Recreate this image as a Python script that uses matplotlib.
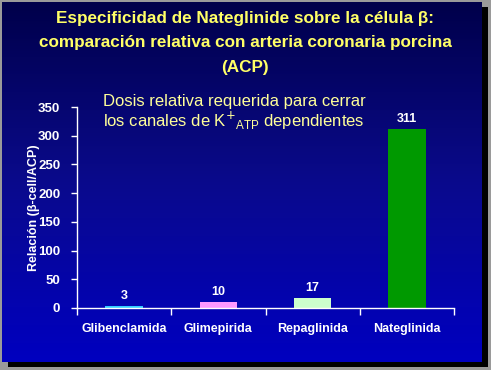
import numpy as np
import matplotlib
matplotlib.use('Agg')
import matplotlib.pyplot as plt
from matplotlib.patches import Rectangle
from matplotlib.colors import LinearSegmentedColormap

plt.rcParams['font.family'] = ['Liberation Sans', 'DejaVu Sans']

# datos
farmacos = ['Glibenclamida', 'Glimepirida', 'Repaglinida', 'Nateglinida']
relacion = [3, 10, 17, 311]
colores = ['#33ccff', '#ff99ff', '#ccffcc', '#009900']
yticks = [0, 50, 100, 150, 200, 250, 300, 350]

W, H = 491, 370
fig = plt.figure(figsize=(W / 100, H / 100), dpi=100, facecolor='#9a9a9a')

# sombra y fondo de la diapositiva
fig.patches.append(Rectangle((8 / W, 3 / H), 480 / W, 360 / H, transform=fig.transFigure,
                             facecolor='black', edgecolor='none', zorder=0))
bg = fig.add_axes([2 / W, 8 / H, 480 / W, 360 / H], zorder=0.5)
grad = np.linspace(0, 1, 256).reshape(-1, 1)
cmap = LinearSegmentedColormap.from_list('fondo', ['#00004a', '#0a0a8c', '#0000c0'])
bg.imshow(grad, aspect='auto', cmap=cmap, extent=[0, 1, 0, 1], origin='upper')
bg.set_axis_off()

# titulo
titulo = 'Especificidad de Nateglinide sobre la célula β:\ncomparación relativa con arteria coronaria porcina\n(ACP)'
fig.text(245 / W, 1 - 43 / H, titulo, ha='center', va='center', color='#ffff66',
         fontsize=12.3, fontweight='bold', linespacing=1.78, zorder=3)

ax = fig.add_axes([77 / W, 1 - 308 / H, 377 / W, 201 / H], zorder=2)
ax.patch.set_alpha(0)
x = np.arange(len(farmacos))
ax.bar(x, relacion, width=0.40, color=colores, edgecolor='none')
for xi, v in zip(x, relacion):
    ax.text(xi, v + 8, str(v), ha='center', va='bottom', color='white',
            fontsize=9, fontweight='bold')

ax.set_xlim(-0.5, 3.5)
ax.set_ylim(0, 350)
ax.set_yticks(yticks)
ax.set_yticklabels([str(t) for t in yticks], color='white', fontsize=9.5, fontweight='bold')
ax.set_xticks(x)
ax.set_xticklabels(farmacos, color='white', fontsize=9, fontweight='bold')
ax.tick_params(axis='x', length=0, pad=11)
ax.set_xticks([-0.5, 0.5, 1.5, 2.5, 3.5], minor=True)
ax.tick_params(axis='x', which='minor', length=5, color='white', width=1)
ax.tick_params(axis='y', length=4, color='white', width=1, pad=8)
for s in ['top', 'right']:
    ax.spines[s].set_visible(False)
for s in ['left', 'bottom']:
    ax.spines[s].set_color('white')
    ax.spines[s].set_linewidth(1)
ax.set_ylabel('Relación (β-cell/ACP)', color='white', fontsize=9, fontweight='bold')
ax.yaxis.set_label_coords(-0.098, 0.5)

fig.text(234 / W, 1 - 113 / H,
         'Dosis relativa requerida para cerrar\nlos canales de K$^{+}$$_{\\mathregular{ATP}}$ dependientes',
         ha='center', va='center', color='#ffff99', fontsize=12, linespacing=1.05, zorder=3)

plt.savefig('out.png', dpi=100, facecolor=fig.get_facecolor())
